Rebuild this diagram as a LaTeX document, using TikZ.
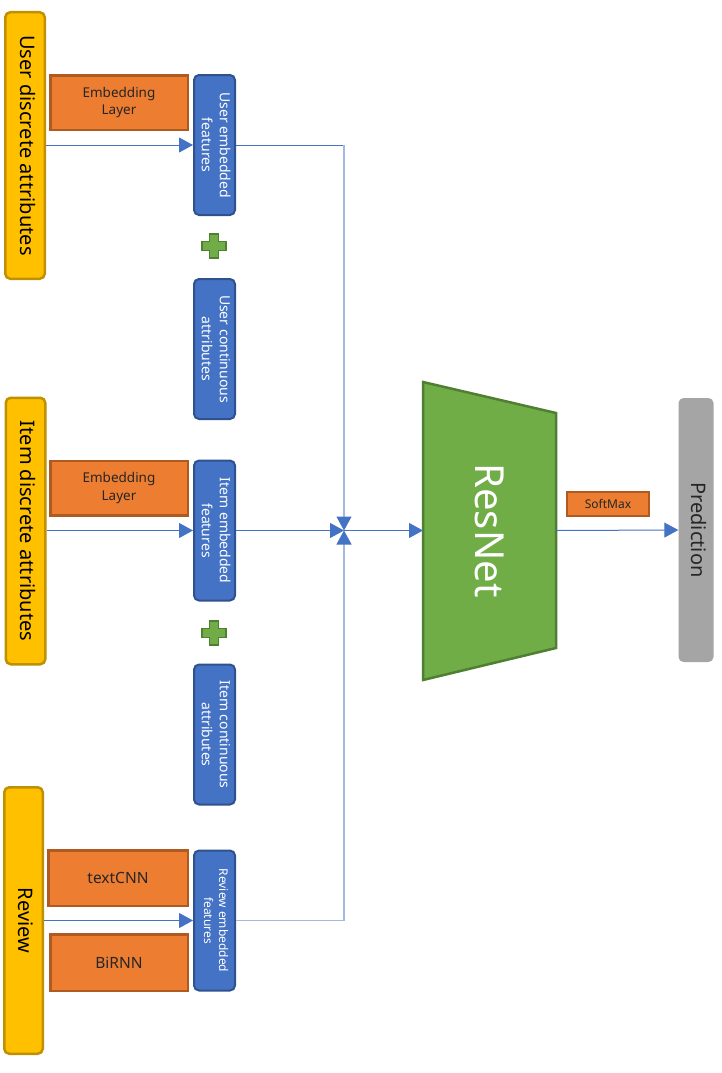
\documentclass[tikz,border=0pt]{standalone}
\usepackage{fontspec}
\setmainfont{Noto Sans}
\usepackage{graphicx}
\usetikzlibrary{arrows.meta}

\definecolor{ybox}{HTML}{FFC000}
\definecolor{ydark}{HTML}{BF9000}
\definecolor{obox}{HTML}{ED7D31}
\definecolor{odark}{HTML}{AE5A21}
\definecolor{bbox}{HTML}{4472C4}
\definecolor{bdark}{HTML}{2F528F}
\definecolor{gfill}{HTML}{70AD47}
\definecolor{gdark}{HTML}{507E32}
\definecolor{gbox}{HTML}{A5A5A5}
\definecolor{lblue}{HTML}{4472C4}
\definecolor{lblight}{HTML}{A2B9E2}

% text running top to bottom, first line on the right
\newcommand{\vlabel}[1]{\rotatebox{-90}{\begin{tabular}{@{}c@{}}#1\end{tabular}}}

\tikzset{
  src/.style={draw=ydark, fill=ybox, line width=2.5pt, rounded corners=5pt,
    inner sep=0pt, minimum width=39.5pt, minimum height=266.5pt,
    font=\fontsize{20}{24}\selectfont},
  enc/.style={draw=odark, fill=obox, line width=2.5pt, inner sep=0pt,
    text=black!85, align=center},
  feat/.style={draw=bdark, fill=bbox, line width=2pt, rounded corners=5pt,
    inner sep=0pt, minimum width=41pt, minimum height=140pt, text=white,
    font=\fontsize{14}{18}\selectfont},
  plusst/.style={draw=gdark, fill=gfill, line width=1.5pt},
  link/.style={draw=lblue, line width=1pt},
  linkl/.style={draw=lblight, line width=1.3pt},
  tip/.style={-{Triangle[length=14pt,width=15pt,color=lblue]}},
}

\begin{document}
\begin{tikzpicture}[x=1pt,y=-1pt]
\useasboundingbox (0,0) rectangle (721,1073);

% input sources
\node[src] (usrc) at (25,145.5) {\vlabel{User discrete attributes}};
\node[src] (isrc) at (25.5,531) {\vlabel{Item discrete attributes}};
\node[src, minimum width=38.5pt] (rsrc) at (23.5,920.5) {\vlabel{Review}};

% encoders
\node[enc, minimum width=137.5pt, minimum height=54.5pt,
  font=\fontsize{13.5}{17.5}\selectfont] (emb1) at (119,102.5) {Embedding\\Layer};
\node[enc, minimum width=137.5pt, minimum height=54.5pt,
  font=\fontsize{13.5}{17.5}\selectfont] (emb2) at (119,488) {Embedding\\Layer};
\node[enc, minimum width=139.5pt, minimum height=55.5pt,
  font=\fontsize{15.5}{19}\selectfont] (tcnn) at (118,878) {textCNN};
\node[enc, minimum width=137.5pt, minimum height=56.5pt,
  font=\fontsize{15.5}{19}\selectfont] (birnn) at (119,962.5) {BiRNN};

% feature blocks
\node[feat] (ue) at (214.5,145) {\vlabel{User embedded\\features}};
\node[feat] (uc) at (214.5,349) {\vlabel{User continuous\\attributes}};
\node[feat] (ie) at (214.5,530.5) {\vlabel{Item embedded\\features}};
\node[feat] (ic) at (214.5,734.5) {\vlabel{Item continuous\\attributes}};
\node[feat, font=\fontsize{12}{15}\selectfont] (re) at (214.5,920.5) {\vlabel{Review embedded\\features}};

% plus signs between embedded and continuous features
\foreach \p in {(214,246),(214,633)}
  \draw[plusst, shift={\p}] (-4.5,-12) -- (4.5,-12) -- (4.5,-4.5) -- (12,-4.5)
    -- (12,4.5) -- (4.5,4.5) -- (4.5,12) -- (-4.5,12) -- (-4.5,4.5)
    -- (-12,4.5) -- (-12,-4.5) -- (-4.5,-4.5) -- cycle;

% ResNet trapezoid
\draw[fill=gfill, draw=gdark, line width=2.5pt]
  (423,382) -- (556,413) -- (556,648) -- (423,680) -- cycle;
\node[rotate=-90, text=white, font=\fontsize{40}{46}\selectfont] (resnet) at (490,530.5) {ResNet};
\coordinate (rin) at (423,530.5);
\coordinate (rout) at (556,530.5);

% output
\node[fill=gbox, rounded corners=5pt, inner sep=0pt, minimum width=35pt,
  minimum height=264pt, text=black!85, font=\fontsize{20}{24}\selectfont]
  (pred) at (696,530) {\vlabel{Prediction}};
\node[enc, line width=2pt, minimum width=82pt, minimum height=24pt,
  font=\fontsize{12}{14}\selectfont] (sm) at (608,504) {SoftMax};

% merge point
\coordinate (m) at (344,530.5);

% connectors
\draw[link, tip] (usrc.east |- ue.west) -- (ue.west);
\draw[link, tip] (isrc.east |- ie.west) -- (ie.west);
\draw[link, tip] (rsrc.east |- re.west) -- (re.west);
\draw[link] (ue.east) -- (ue.east -| m);
\draw[linkl, tip] (ue.east -| m) -- (m);
\draw[link, tip] (ie.east) -- (m);
\draw[linkl] (re.east) -- (re.east -| m);
\draw[linkl, tip] (re.east -| m) -- (m);
\draw[link, tip] (m) -- (rin);
\draw[link, tip] (rout) -- (pred.west);
\end{tikzpicture}
\end{document}
